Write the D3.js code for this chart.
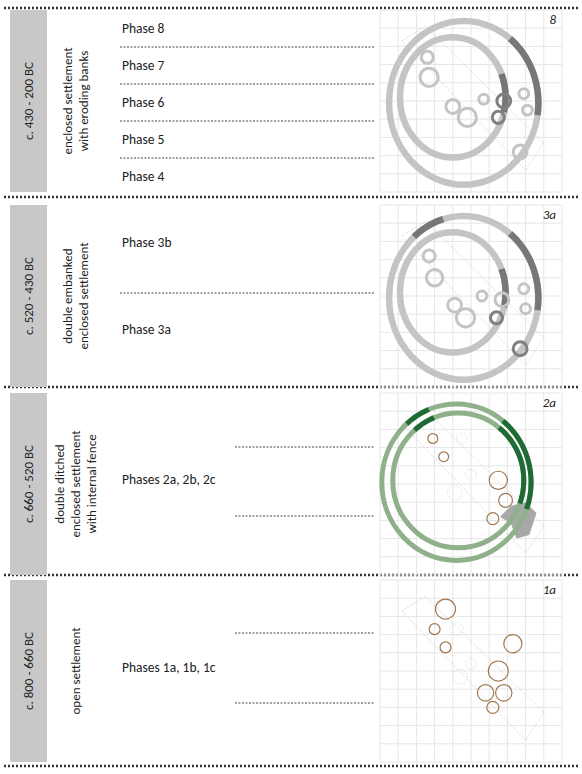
<!DOCTYPE html>
<html><head><meta charset="utf-8">
<script src="https://cdn.jsdelivr.net/npm/d3@7"></script>
<style>body{margin:0;background:#fff}text{font-family:Carlito,Calibri,"Liberation Sans",sans-serif}</style>
</head><body>
<script>
// periods, top to bottom
const periods = ['c. 430 - 200 BC', 'c. 520 - 430 BC', 'c. 660 - 520 BC', 'c. 800 - 660 BC'];
const descriptions = [
    ['enclosed settlement', 'with eroding banks'],
    ['double embanked', 'enclosed settlement'],
    ['double ditched', 'enclosed settlement', 'with internal fence'],
    ['open settlement']
];
const phaseLabels = [
    [['Phase 8', 29], ['Phase 7', 66], ['Phase 6', 103], ['Phase 5', 140], ['Phase 4', 177]],
    [['Phase 3b', 243], ['Phase 3a', 330]],
    [['Phases 2a, 2b, 2c', 480]],
    [['Phases 1a, 1b, 1c', 668]]
];
const dashes = [[47, 84, 121, 158], [293], [447, 516], [633, 703]];
const plans = ['8', '3a', '2a', '1a'];
const rowTops = [10, 205, 393, 580];

// plan features in local units 0..100 : [x, y, r, kind]
const pits = [
    [[26,26,3.3,'g'],[27,37,5,'g'],[40,53,3.8,'g'],[48,59,5,'g'],[57,49,2.7,'g'],[68,50,3.8,'d'],[65,59,3.3,'d'],[79,46,2.7,'g'],[81,55,2.7,'g'],[77,78,3.8,'g']],
    [[27,28,3.3,'g'],[30,40,4.5,'g'],[41,55,3.8,'g'],[47,62,5,'g'],[56,50,2.7,'g'],[67,52,3.8,'g'],[64,62,3.3,'d'],[79,46,2.7,'g'],[80,57,2.7,'g'],[77,79,3.8,'d']],
    [[29,25,2.7,'b'],[35,35,2.7,'b'],[65,48,5,'b'],[69,59,3.8,'b'],[62,69,3.3,'b'],[45,25,3,'x'],[50,45,3,'x'],[41,55,4,'x']],
    [[36,16,5.5,'b'],[30,27,3,'b'],[36,37,3,'b'],[73,35,5,'b'],[65,50,5.5,'b'],[58,62,4.5,'b'],[68,62,4.5,'b'],[62,70,3.3,'b'],[42,27,3.5,'x'],[50,46,3,'x'],[44,53,4,'x']]
];
// rings: [cx, cy, rx, ry, colour]
const rings = [
    [[46,51,41,45,'#c4c4c4'],[40,48,29,33,'#c4c4c4']],
    [[46,51,41,45,'#c4c4c4'],[40,48,29,33,'#c4c4c4']],
    [[42,49,41,43,'#8fb08a'],[43,48,36,37,'#8fb08a']],
    []
];
const trench = [[12,17],[25,9],[90,73],[80,88]];

const svg = d3.select('body').append('svg').attr('width', 582).attr('height', 774);

// dotted separators
[8, 197, 387, 575, 766].forEach(y => {
    svg.append('line').attr('x1', 4).attr('x2', 580).attr('y1', y).attr('y2', y)
        .attr('stroke', '#333').attr('stroke-width', 2.5).attr('stroke-dasharray', '2,2');
});

periods.forEach((p, i) => {
    const top = rowTops[i], h = 182, mid = top + h / 2;
    svg.append('rect').attr('x', 10).attr('y', top).attr('width', 37).attr('height', h).attr('fill', '#c8c8c8');
    svg.append('text').attr('transform', `translate(33,${mid}) rotate(-90)`)
        .attr('text-anchor', 'middle').attr('font-size', 13).attr('fill', '#222').text(p);
    const lines = descriptions[i];
    lines.forEach((t, j) => {
        svg.append('text').attr('transform', `translate(${80 + (j - (lines.length - 1) / 2) * 16},${mid}) rotate(-90)`)
            .attr('text-anchor', 'middle').attr('font-size', 13).attr('fill', '#222').text(t);
    });
    phaseLabels[i].forEach(([t, y]) => {
        svg.append('text').attr('x', 122).attr('y', y + 4).attr('font-size', 13.5).attr('fill', '#222').text(t);
    });
    const x0 = i < 2 ? 120 : 235;
    dashes[i].forEach(y => {
        svg.append('line').attr('x1', x0).attr('x2', 375).attr('y1', y).attr('y2', y)
            .attr('stroke', '#444').attr('stroke-dasharray', '2,1.5');
    });

    // plan
    const sx = d3.scaleLinear().domain([0, 100]).range([380, 562]);
    const sy = d3.scaleLinear().domain([0, 100]).range([top, top + h]);
    const g = svg.append('g');
    d3.range(0, 101, 10).forEach(v => {
        g.append('line').attr('x1', sx(v)).attr('x2', sx(v)).attr('y1', sy(0)).attr('y2', sy(100)).attr('stroke', '#e6e6e6');
        g.append('line').attr('y1', sy(v)).attr('y2', sy(v)).attr('x1', sx(0)).attr('x2', sx(100)).attr('stroke', '#e6e6e6');
    });
    g.append('path').attr('d', d3.line().x(d => sx(d[0])).y(d => sy(d[1]))(trench) + 'Z')
        .attr('fill', 'none').attr('stroke', '#bbb').attr('stroke-width', 0.6).attr('stroke-dasharray', '1,1');
    if (i === 2) {
        g.append('path').attr('d', d3.line().x(d => sx(d[0])).y(d => sy(d[1]))([[72,62],[80,60],[86,66],[82,78],[75,80],[72,72],[66,68]]) + 'Z')
            .attr('fill', '#a8a8a8');
    }
    rings[i].forEach(([cx, cy, rx, ry, c]) => {
        g.append('ellipse').attr('cx', sx(cx)).attr('cy', sy(cy)).attr('rx', sx(rx) - sx(0)).attr('ry', sy(ry) - sy(0))
            .attr('fill', 'none').attr('stroke', c).attr('stroke-width', i === 2 ? 5 : 6.5);
    });
    const arc = (cx, cy, rx, ry, a0, a1) => d3.line().x(a => sx(cx + rx * Math.cos(a))).y(a => sy(cy + ry * Math.sin(a)))(d3.range(a0, a1, 0.05));
    if (i === 0 || i === 1) {
        // darker recut segments on the east side
        g.append('path').attr('d', arc(46, 51, 41, 45, -0.9, 0.2)).attr('fill', 'none').attr('stroke', '#777').attr('stroke-width', 6.5);
        g.append('path').attr('d', arc(40, 48, 29, 33, -0.4, 0.3)).attr('fill', 'none').attr('stroke', '#777').attr('stroke-width', 6.5);
        if (i === 1) g.append('path').attr('d', arc(46, 51, 41, 45, -2.3, -1.8)).attr('fill', 'none').attr('stroke', '#777').attr('stroke-width', 6.5);
    }
    if (i === 2) {
        [[42,49,41,43],[43,48,36,37]].forEach(r => {
            g.append('path').attr('d', arc(...r, -0.9, 0.4)).attr('fill', 'none').attr('stroke', '#1e6b35').attr('stroke-width', 5);
            g.append('path').attr('d', arc(...r, -2.3, -1.9)).attr('fill', 'none').attr('stroke', '#1e6b35').attr('stroke-width', 5);
        });
    }
    const col = { g: '#c4c4c4', d: '#808080', b: '#a07850', x: '#cfcfcf' };
    g.selectAll('circle.pit').data(pits[i]).join('circle')
        .attr('cx', d => sx(d[0])).attr('cy', d => sy(d[1])).attr('r', d => sx(d[2]) - sx(0))
        .attr('fill', 'none').attr('stroke', d => col[d[3]])
        .attr('stroke-width', d => d[3] === 'b' ? 1.2 : d[3] === 'x' ? 0.7 : 3)
        .attr('stroke-dasharray', d => d[3] === 'x' ? '1.5,1.5' : null);
    g.append('text').attr('x', 556).attr('y', top + 14).attr('text-anchor', 'end')
        .attr('font-size', 13).attr('font-style', 'italic').attr('fill', '#222').text(plans[i]);
});
</script>
</body></html>
